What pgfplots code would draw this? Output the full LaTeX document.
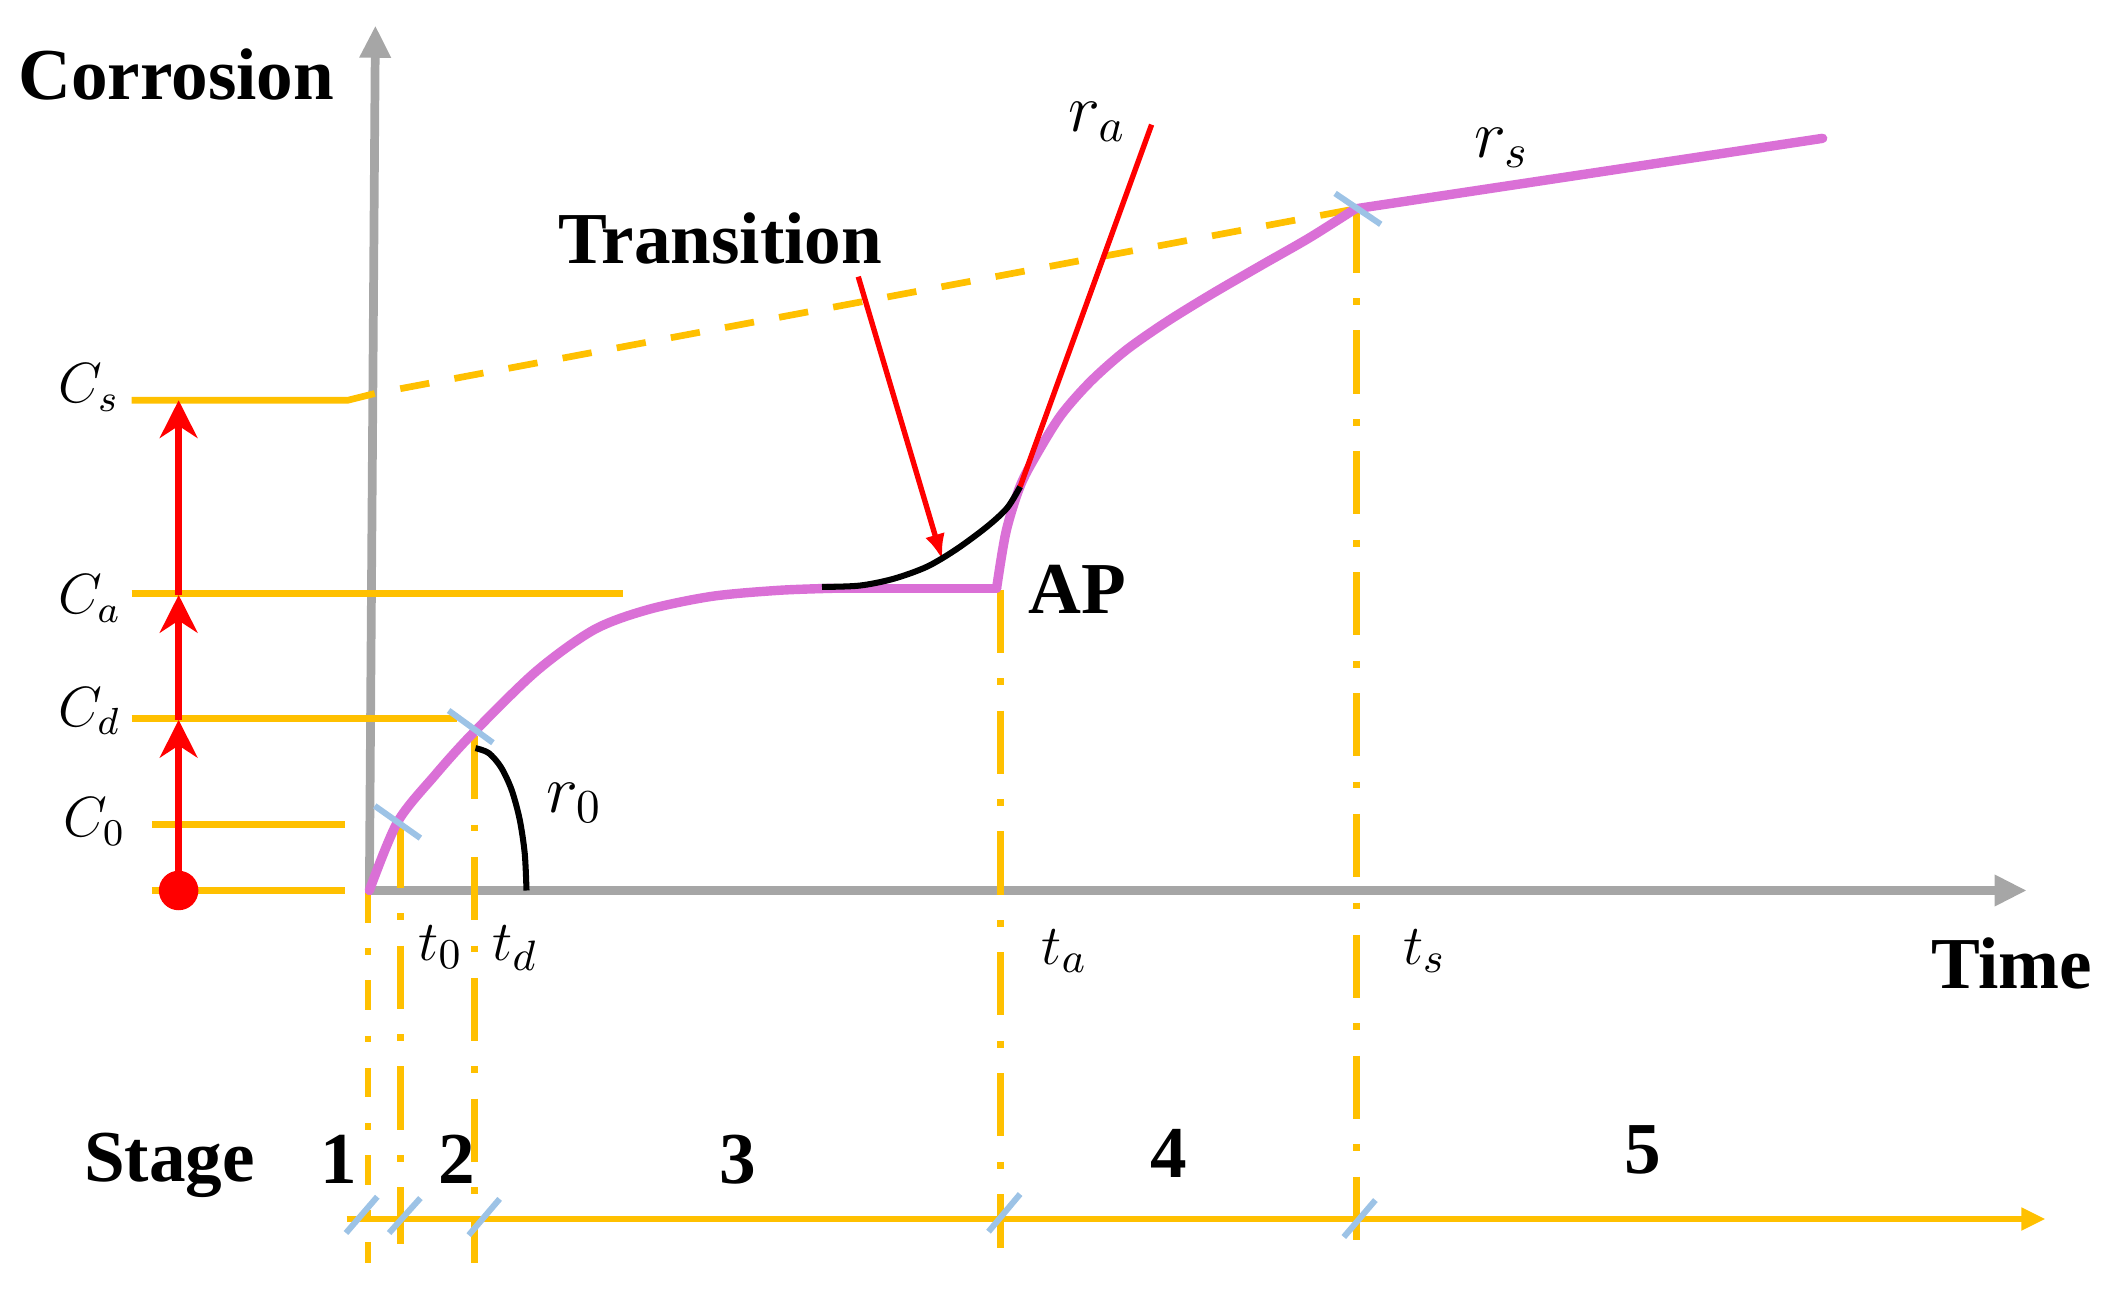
\documentclass[border=0pt]{standalone}
\usepackage{pgfplots}
\pgfplotsset{compat=1.18}
\usepackage{fontspec}
\setmainfont{Liberation Serif}
\usetikzlibrary{arrows.meta}
\definecolor{gold}{HTML}{FFC000}
\definecolor{orch}{HTML}{DA70D6}
\definecolor{tickblue}{HTML}{9DC3E6}
\definecolor{axgray}{HTML}{A6A6A6}
\newcommand{\bl}{\bfseries\fontsize{15.5}{18}\selectfont}
\newcommand{\ml}{\fontsize{12}{14}\selectfont}
\newcommand{\mr}{\fontsize{14.5}{17}\selectfont}
\newcommand{\mt}{\fontsize{12.5}{15}\selectfont}
\tikzset{lab/.style={inner sep=0pt, anchor=base west}}
\begin{document}
\begin{tikzpicture}
\begin{axis}[
  width=15.68cm, height=9.61cm, scale only axis,
  xmin=0, xmax=1568, ymin=0, ymax=961, y dir=reverse,
  hide axis, clip=false, unbounded coords=jump,
]
% gray axes
\addplot[axgray, line width=0.65mm, -{Triangle[length=2.4mm,width=2.2mm]}] coordinates {(275,665) (279.5,19)};
\addplot[axgray, line width=0.65mm, -{Triangle[length=2.4mm,width=2.2mm]}] coordinates {(272,663) (1509,663)};

% horizontal guide lines
\addplot[gold, line width=0.5mm] coordinates {(98,298) (259,298) (279,293)};
\addplot[gold, line width=0.5mm] coordinates {(98,442) (464,442)};
\addplot[gold, line width=0.5mm] coordinates {(98,535) (340,535)};
\addplot[gold, line width=0.5mm] coordinates {(113,614) (257,614)};
\addplot[gold, line width=0.5mm] coordinates {(113,663) (257,663)};
\addplot[gold, line width=0.5mm, dash pattern=on 2.2mm off 1.9mm] coordinates {(298,289.4) (1009,155.5)};

% vertical dash-dot lines
\addplot[gold, line width=0.5mm, dash pattern=on 2.2mm off 1.9mm on 0.5mm off 1.9mm] coordinates {(274,665) (274,940)};
\addplot[gold, line width=0.5mm, dash pattern=on 4.7mm off 1.9mm on 0.5mm off 1.9mm] coordinates {(298,614) (298,926)};
\addplot[gold, line width=0.5mm, dash pattern=on 4.7mm off 1.9mm on 0.5mm off 1.9mm] coordinates {(353.5,548) (353.5,940)};
\addplot[gold, line width=0.5mm, dash pattern=on 4.7mm off 1.9mm on 0.5mm off 1.9mm] coordinates {(745,439) (745,929)};
\addplot[gold, line width=0.5mm, dash pattern=on 4.7mm off 1.9mm on 0.5mm off 1.9mm] coordinates {(1010,156) (1010,936)};

% stage bar
\addplot[gold, line width=0.5mm, -{Triangle[length=1.8mm,width=1.6mm]}] coordinates {(258,907.6) (1523,907.6)};

% corrosion curve
\addplot[orch, line width=0.7mm, smooth, line cap=round] coordinates {
(275,663) (296,612) (324,577) (352,546) (399,500) (442,469) (482,454) (530,444) (580,439.5) (620,438)};
\addplot[orch, line width=0.7mm, line cap=round] coordinates {(620,438) (742,438)};
\addplot[orch, line width=0.7mm, smooth, line cap=round] coordinates {
(742,438) (749,396) (759.5,362) (772,338) (790,309) (812,284) (838,261) (868,240) (902,219) (940,197) (975,177) (1009,155.5)};
\addplot[orch, line width=0.7mm, line cap=round] coordinates {(1009,155.5) (1357,103)};

% red arrows and dot
\addplot[red, line width=0.5mm, -{Stealth[length=2.8mm,width=2.8mm,inset=0.9mm]}] coordinates {(133,663) (133,536)};
\addplot[red, line width=0.5mm, -{Stealth[length=2.8mm,width=2.8mm,inset=0.9mm]}] coordinates {(133,536) (133,443)};
\addplot[red, line width=0.5mm, -{Stealth[length=2.8mm,width=2.8mm,inset=0.9mm]}] coordinates {(133,443) (133,298)};
\addplot[red, only marks, mark=*, mark size=1.4mm] coordinates {(133,663)};
\addplot[red, line width=0.4mm] coordinates {(759.5,362.4) (857.4,92.8)};
\addplot[red, line width=0.4mm, -{Latex[length=1.9mm,width=1.5mm]}] coordinates {(639,206) (701.6,416.7)};

% black arcs
\addplot[black, line width=0.45mm, smooth] coordinates {
(354,557) (363.8,560.6) (373,571.2) (380.9,588) (386.9,610) (390.7,635.6) (392,663)};
\addplot[black, line width=0.45mm, smooth] coordinates {
(612,437) (640,436) (665,431) (690,422) (712,409) (735,392) (750,378) (759.5,362.4)};

% blue ticks
\addplot[tickblue, line width=0.45mm] coordinates {
(279,600) (313,624) (nan,nan)
(334,529) (367,553) (nan,nan)
(994,144) (1028,167) (nan,nan)
(257.6,918) (280.9,891) (nan,nan)
(289.7,918) (313,892) (nan,nan)
(349,919.6) (372,892.6) (nan,nan)
(736,917) (759.5,889) (nan,nan)
(1000.5,921) (1024,893.5)};

% bold texts
\node[lab] at (axis cs:13,74) {\bl Corrosion};
\node[lab] at (axis cs:415,196) {\bl Transition};
\node[lab] at (axis cs:765,457) {\bl AP};
\node[lab] at (axis cs:1437,736) {\bl Time};
\node[lab] at (axis cs:62,880) {\bl Stage};
\node[lab] at (axis cs:238,881) {\bl 1};
\node[lab] at (axis cs:326,881) {\bl 2};
\node[lab] at (axis cs:535,881) {\bl 3};
\node[lab] at (axis cs:856,877) {\bl 4};
\node[lab] at (axis cs:1209,874) {\bl 5};

% math labels
\node[lab] at (axis cs:43,300) {\ml $C_s$};
\node[lab] at (axis cs:42.5,457) {\ml $C_a$};
\node[lab] at (axis cs:42.5,540.6) {\ml $C_d$};
\node[lab] at (axis cs:46.5,623) {\ml $C_0$};
\node[lab] at (axis cs:406,605) {\mr $r_0$};
\node[lab] at (axis cs:795,98) {\mr $r_a$};
\node[lab] at (axis cs:1097,117) {\mr $r_s$};
\node[lab] at (axis cs:311,715) {\mt $t_0$};
\node[lab] at (axis cs:366,715) {\mt $t_d$};
\node[lab] at (axis cs:775,718) {\mt $t_a$};
\node[lab] at (axis cs:1044,718) {\mt $t_s$};
\end{axis}
\pgfresetboundingbox
\useasboundingbox (current axis.south west) rectangle (current axis.north east);
\end{tikzpicture}
\end{document}
